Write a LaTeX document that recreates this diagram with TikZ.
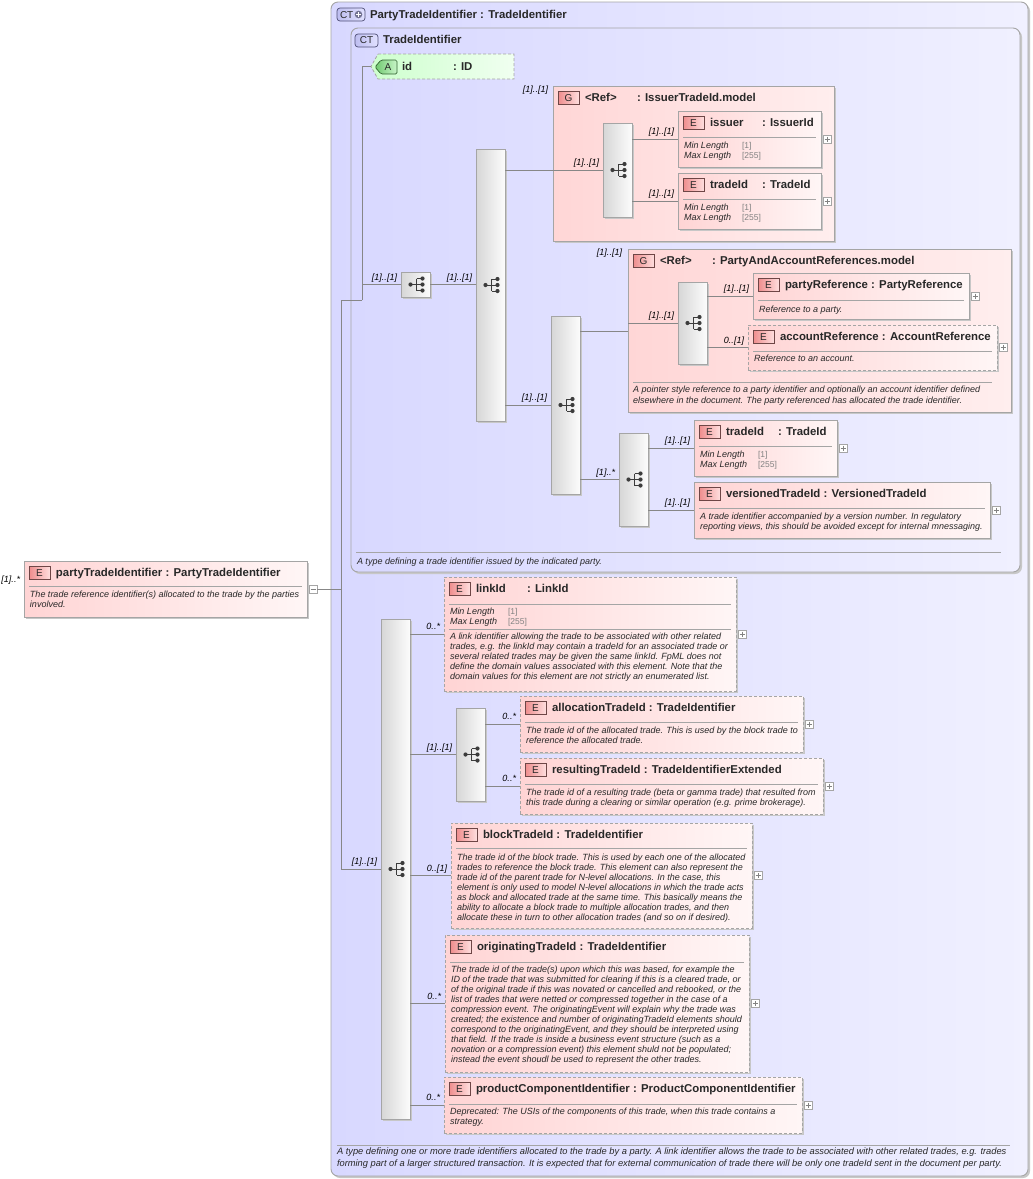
\documentclass[tikz,border=0pt]{standalone}
\usepackage{fontspec}
\setmainfont{Liberation Sans}
\usetikzlibrary{shadows}

\definecolor{linec}{RGB}{135,135,135}
\definecolor{boxb}{RGB}{165,165,165}
\definecolor{ctL}{RGB}{216,216,255}
\definecolor{ctR}{RGB}{240,240,255}
\definecolor{elL}{RGB}{255,212,212}
\definecolor{elR}{RGB}{255,246,246}
\definecolor{grL}{RGB}{255,214,214}
\definecolor{grR}{RGB}{255,238,238}
\definecolor{seqL}{RGB}{214,214,214}
\definecolor{seqR}{RGB}{252,252,252}
\definecolor{atL}{RGB}{205,255,205}
\definecolor{atR}{RGB}{240,255,240}
\definecolor{bdgL}{RGB}{238,140,140}
\definecolor{bdgR}{RGB}{255,222,222}
\definecolor{bdgB}{RGB}{110,70,70}
\definecolor{ctbL}{RGB}{190,190,240}
\definecolor{ctbR}{RGB}{225,225,255}
\definecolor{ctbB}{RGB}{80,80,120}
\definecolor{abL}{RGB}{110,200,110}
\definecolor{abR}{RGB}{200,245,200}
\definecolor{abB}{RGB}{50,100,50}
\definecolor{icoc}{RGB}{60,60,60}
\definecolor{txt}{RGB}{40,40,40}
\definecolor{valc}{RGB}{130,130,130}

\newcommand\ftitle{\fontsize{11.4}{13}\selectfont\bfseries}
\newcommand\fsm{\fontsize{9}{10}\selectfont\itshape}
\newcommand\fval{\fontsize{8.5}{10}\selectfont}

\tikzset{
  every node/.style={inner sep=0pt, outer sep=0pt},
  conn/.style={draw=linec, line width=0.8pt},
  shad/.style={drop shadow={shadow xshift=2pt, shadow yshift=-2pt, fill=black!22, opacity=1}},
  ctbox/.style={draw=boxb, line width=0.9pt, rounded corners=7pt, left color=ctL, right color=ctR, shad},
  elembox/.style={draw=boxb, line width=0.8pt, left color=elL, right color=elR, shad},
  optbox/.style={elembox, dash pattern=on 3pt off 2pt},
  grpbox/.style={draw=boxb, line width=0.8pt, left color=grL, right color=grR, shad},
  seqbox/.style={draw=boxb, line width=0.8pt, left color=seqL, right color=seqR, shad},
  ebadge/.style={draw=bdgB, line width=0.7pt, left color=bdgL, right color=bdgR, minimum width=21pt, minimum height=13.5pt, font=\fontsize{10}{10}\selectfont, text=txt},
  ctbadge/.style={draw=ctbB, line width=0.7pt, rounded corners=3pt, left color=ctbL, right color=ctbR, minimum height=13pt, font=\fontsize{10}{10}\selectfont, text=txt},
  titletext/.style={font=\ftitle, text=txt, text height=8.5pt, text depth=2.5pt},
  lab/.style={font=\fsm, text=black, text height=7pt, text depth=2pt},
  desc/.style={font=\fsm, align=left, text=txt},
  factext/.style={font=\fsm, text=txt, text height=7pt, text depth=2pt},
  facval/.style={font=\fval, text=valc, text height=7pt, text depth=2pt},
  sepline/.style={draw=boxb, line width=0.7pt},
  pm/.style={draw=boxb, fill=white, line width=0.6pt, minimum width=8pt, minimum height=8pt},
  seqicon/.pic={
    \draw[icoc, line width=0.9pt] (-6,0) -- (0,0) (0,-6) -- (0,6) (0,-6) -- (6,-6) (0,0) -- (6,0) (0,6) -- (6,6);
    \fill[icoc] (-6,0) circle (2.1pt) (6,-6) circle (2.1pt) (6,0) circle (2.1pt) (6,6) circle (2.1pt);
  }
}

\newcommand\bx[6]{\node[#1, anchor=north west, minimum width=#5pt, minimum height=#6pt] (#2) at (#3,#4) {};}
\newcommand\ehead[3]{%
  \node[ebadge, anchor=north west] at ([shift={(5,5)}]#1.north west) {#2};
  \node[titletext, anchor=west] at ([shift={(32,12.5)}]#1.north west) {#3};}
\newcommand\etype[3]{\node[titletext, anchor=west] at ([shift={(#2,12.5)}]#1.north west) {#3};}
\newcommand\esep[2]{\draw[sepline] ([shift={(5,#2)}]#1.north west) -- ([shift={(-5,#2)}]#1.north east);}
\newcommand\facetsb[2]{%
  \node[factext, anchor=west] at ([shift={(6,#2)}]#1.north west) {Min Length};
  \node[facval, anchor=west] at ([shift={(64,#2)}]#1.north west) {[1]};
  \node[factext, anchor=west] at ([shift={(6,#2+10)}]#1.north west) {Max Length};
  \node[facval, anchor=west] at ([shift={(64,#2+10)}]#1.north west) {[255]};}
\newcommand\dsc[3]{\node[desc, anchor=north west] at ([shift={(6,#2)}]#1.north west) {#3};}
\newcommand\plusbx[1]{%
  \node[pm, anchor=west] (#1p) at ([shift={(2,0)}]#1.east) {};
  \draw[valc, line width=0.6pt] ([shift={(-2.5,0)}]#1p.center) -- ([shift={(2.5,0)}]#1p.center) ([shift={(0,-2.5)}]#1p.center) -- ([shift={(0,2.5)}]#1p.center);}
\newcommand\occl[2]{\node[lab, anchor=south east] at ([shift={(-4,-2.5)}]#1) {#2};}
\newcommand\seqb[5]{\bx{seqbox}{#1}{#2}{#3}{#4}{#5}\pic at ([shift={(1,0)}]#1.center) {seqicon};}

\begin{document}
\begin{tikzpicture}[x=1pt,y=-1pt]
\useasboundingbox (0,0) rectangle (1033,1179);
\fill[white] (0,0) rectangle (1033,1179);

% ---------- outer complex type ----------
\bx{ctbox}{ptid}{331}{2}{697}{1174}
\node[ctbadge, anchor=north west, minimum width=28pt] (ptidb) at (337,8) {};
\node[anchor=west, font=\fontsize{10}{10}\selectfont, text=txt] at ([shift={(3,0.5)}]ptidb.west) {CT};
\fill[ctbB!80] ([shift={(-6.5,0)}]ptidb.east) circle (3.8pt);
\draw[white, line width=1.1pt] ([shift={(-9,0)}]ptidb.east) -- ([shift={(-4,0)}]ptidb.east) ([shift={(-6.5,-2.5)}]ptidb.east) -- ([shift={(-6.5,2.5)}]ptidb.east);
\node[titletext, anchor=west] at (370,15) {PartyTradeIdentifier : TradeIdentifier};
\draw[sepline] (337,1145) -- (1010,1145);
\node[desc, anchor=north west, font=\fontsize{9.3}{12}\selectfont\itshape] at (337,1147.5) {A type defining one or more trade identifiers allocated to the trade by a party. A link identifier allows the trade to be associated with other related trades, e.g. trades\\forming part of a larger structured transaction. It is expected that for external communication of trade there will be only one tradeId sent in the document per party.};

% ---------- inner complex type ----------
\bx{ctbox}{tid}{351}{28}{669}{544}
\node[ctbadge, anchor=north west, minimum width=23pt] (tidb) at (355,34) {CT};
\node[titletext, anchor=west] at (383,40.5) {TradeIdentifier};
\draw[sepline] (356,552) -- (1001,552);
\node[desc, anchor=north west] at (357,557.5) {A type defining a trade identifier issued by the indicated party.};

% ---------- attribute id ----------
\node[anchor=north west, minimum width=143pt, minimum height=25pt] (idattr) at (371,54) {};
\path[draw=boxb, dash pattern=on 3pt off 2pt, line width=0.8pt, left color=atL, right color=atR] (378,54) -- (514,54) -- (514,79) -- (378,79) -- (371,66.5) -- cycle;
\path[draw=abB, line width=0.7pt, left color=abL, right color=abR, rounded corners=1.5pt] (381,60) -- (397,60) -- (397,74) -- (381,74) -- (375,67) -- cycle;
\node[font=\fontsize{10}{10}\selectfont, text=txt] at (388,67) {A};
\node[titletext, anchor=west] at (402,67) {id};
\node[titletext, anchor=west] at (453,67) {: ID};

% ---------- left element ----------
\bx{elembox}{pte}{24}{561}{283}{56}
\ehead{pte}{E}{partyTradeIdentifier : PartyTradeIdentifier}
\esep{pte}{25}
\dsc{pte}{29.5}{The trade reference identifier(s) allocated to the trade by the parties\\involved.}
\node[pm, anchor=west] (ptemin) at ([shift={(2,0)}]pte.east) {};
\draw[valc, line width=0.6pt] ([shift={(-2.5,0)}]ptemin.center) -- ([shift={(2.5,0)}]ptemin.center);
\node[lab, anchor=south east] at ([shift={(-4,-5)}]pte.west) {[1]..*};

% ---------- sequences of TradeIdentifier ----------
\seqb{s1}{401}{272}{29}{25}
\seqb{s2}{476}{149}{29}{272}

% group IssuerTradeId.model
\bx{grpbox}{g1}{553}{86}{281}{155}
\ehead{g1}{G}{<Ref>}
\etype{g1}{84}{: IssuerTradeId.model}
\node[lab, anchor=east] at ([shift={(-5,4)}]g1.north west) {[1]..[1]};
\coordinate (g1port) at ([shift={(0,84)}]g1.north west);
\seqb{s3}{603}{123}{29}{94}
\bx{elembox}{issuer}{678}{111}{143}{56}
\ehead{issuer}{E}{issuer}\etype{issuer}{84}{: IssuerId}
\esep{issuer}{26}\facetsb{issuer}{34.5}\plusbx{issuer}
\bx{elembox}{tradeidA}{678}{173}{143}{56}
\ehead{tradeidA}{E}{tradeId}\etype{tradeidA}{84}{: TradeId}
\esep{tradeidA}{26}\facetsb{tradeidA}{34.5}\plusbx{tradeidA}

\seqb{s4}{551}{316}{29}{178}

% group PartyAndAccountReferences.model
\bx{grpbox}{g2}{628}{249}{383}{163}
\ehead{g2}{G}{<Ref>}
\etype{g2}{84}{: PartyAndAccountReferences.model}
\node[lab, anchor=east] at ([shift={(-6,4)}]g2.north west) {[1]..[1]};
\coordinate (g2port) at ([shift={(0,82)}]g2.north west);
\draw[sepline] ([shift={(5,133)}]g2.north west) -- ([shift={(-19,133)}]g2.north east);
\node[desc, anchor=north west, font=\fontsize{9}{11}\selectfont\itshape] at ([shift={(5,136.5)}]g2.north west) {A pointer style reference to a party identifier and optionally an account identifier defined\\elsewhere in the document. The party referenced has allocated the trade identifier.};
\seqb{s5}{678}{282}{29}{82}
\bx{elembox}{partyref}{753}{273}{216}{46}
\ehead{partyref}{E}{partyReference : PartyReference}
\esep{partyref}{27}\dsc{partyref}{32.5}{Reference to a party.}\plusbx{partyref}
\bx{optbox}{acctref}{748}{325}{249}{45}
\ehead{acctref}{E}{accountReference : AccountReference}
\esep{acctref}{26}\dsc{acctref}{29.5}{Reference to an account.}\plusbx{acctref}

\seqb{s6}{619}{433}{29}{93}
\bx{elembox}{tradeidB}{694}{420}{143}{56}
\ehead{tradeidB}{E}{tradeId}\etype{tradeidB}{84}{: TradeId}
\esep{tradeidB}{26}\facetsb{tradeidB}{34.5}\plusbx{tradeidB}
\bx{elembox}{versioned}{694}{482}{296}{56}
\ehead{versioned}{E}{versionedTradeId : VersionedTradeId}
\esep{versioned}{26}
\dsc{versioned}{31}{A trade identifier accompanied by a version number. In regulatory\\reporting views, this should be avoided except for internal mnessaging.}
\plusbx{versioned}

% ---------- extension sequence ----------
\seqb{s7}{381}{619}{29}{500}
\bx{optbox}{linkid}{444}{577}{292}{114}
\ehead{linkid}{E}{linkId}\etype{linkid}{83}{: LinkId}
\esep{linkid}{27}\facetsb{linkid}{34.5}\esep{linkid}{52}
\dsc{linkid}{56}{A link identifier allowing the trade to be associated with other related\\trades, e.g. the linkId may contain a tradeId for an associated trade or\\several related trades may be given the same linkId. FpML does not\\define the domain values associated with this element. Note that the\\domain values for this element are not strictly an enumerated list.}
\plusbx{linkid}

\seqb{s8}{456}{708}{29}{93}
\bx{optbox}{alloc}{520}{696}{283}{56}
\ehead{alloc}{E}{allocationTradeId : TradeIdentifier}
\esep{alloc}{26}
\dsc{alloc}{31}{The trade id of the allocated trade. This is used by the block trade to\\reference the allocated trade.}
\plusbx{alloc}
\bx{optbox}{result}{520}{758}{303}{56}
\ehead{result}{E}{resultingTradeId : TradeIdentifierExtended}
\esep{result}{26}
\dsc{result}{30.5}{The trade id of a resulting trade (beta or gamma trade) that resulted from\\this trade during a clearing or similar operation (e.g. prime brokerage).}
\plusbx{result}

\bx{optbox}{block}{451}{823}{301}{105}
\ehead{block}{E}{blockTradeId : TradeIdentifier}
\esep{block}{25}
\dsc{block}{30.5}{The trade id of the block trade. This is used by each one of the allocated\\trades to reference the block trade. This element can also represent the\\trade id of the parent trade for N-level allocations. In the case, this\\element is only used to model N-level allocations in which the trade acts\\as block and allocated trade at the same time. This basically means the\\ability to allocate a block trade to multiple allocation trades, and then\\allocate these in turn to other allocation trades (and so on if desired).}
\plusbx{block}

\bx{optbox}{orig}{445}{935}{304}{137}
\ehead{orig}{E}{originatingTradeId : TradeIdentifier}
\esep{orig}{27}
\dsc{orig}{30.5}{The trade id of the trade(s) upon which this was based, for example the\\ID of the trade that was submitted for clearing if this is a cleared trade, or\\of the original trade if this was novated or cancelled and rebooked, or the\\list of trades that were netted or compressed together in the case of a\\compression event. The originatingEvent will explain why the trade was\\created; the existence and number of originatingTradeId elements should\\correspond to the originatingEvent, and they should be interpreted using\\that field. If the trade is inside a business event structure (such as a\\novation or a compression event) this element shuld not be populated;\\instead the event shoudl be used to represent the other trades.}
\plusbx{orig}

\bx{optbox}{prodcomp}{444}{1077}{358}{56}
\ehead{prodcomp}{E}{productComponentIdentifier : ProductComponentIdentifier}
\esep{prodcomp}{27}
\dsc{prodcomp}{30.5}{Deprecated: The USIs of the components of this trade, when this trade contains a\\strategy.}
\plusbx{prodcomp}

% ---------- connectors ----------
\coordinate (jA) at (341,300);
\coordinate (jB) at (362,300);
\draw[conn] (ptemin.east) -- (ptemin.east -| jA);
\draw[conn] (jA) -- (s7.west -| jA) -- (s7.west);
\draw[conn] (jA) -- (jB);
\draw[conn] (jB) -- (idattr.west -| jB) -- (idattr.west);
\draw[conn] (s1.west -| jB) -- (s1.west);
\draw[conn] (s1.east) -- (s1.east -| s2.west);
\draw[conn] (s2.east |- g1port) -- (g1port);
\draw[conn] (g1.west |- s3.west) -- (s3.west);
\draw[conn] (s3.east |- issuer.west) -- (issuer.west);
\draw[conn] (s3.east |- tradeidA.west) -- (tradeidA.west);
\draw[conn] (s2.east |- s4.west) -- (s4.west);
\draw[conn] (s4.east |- g2port) -- (g2port);
\draw[conn] (g2.west |- s5.west) -- (s5.west);
\draw[conn] (s5.east |- partyref.west) -- (partyref.west);
\draw[conn] (s5.east |- acctref.west) -- (acctref.west);
\draw[conn] (s4.east |- s6.west) -- (s6.west);
\draw[conn] (s6.east |- tradeidB.west) -- (tradeidB.west);
\draw[conn] (s6.east |- versioned.west) -- (versioned.west);
\draw[conn] (s7.east |- linkid.west) -- (linkid.west);
\draw[conn] (s7.east |- s8.west) -- (s8.west);
\draw[conn] (s8.east |- alloc.west) -- (alloc.west);
\draw[conn] (s8.east |- result.west) -- (result.west);
\draw[conn] (s7.east |- block.west) -- (block.west);
\draw[conn] (s7.east |- orig.west) -- (orig.west);
\draw[conn] (s7.east |- prodcomp.west) -- (prodcomp.west);

% ---------- occurrence labels ----------
\occl{s1.west}{[1]..[1]}
\occl{s2.west}{[1]..[1]}
\occl{s3.west}{[1]..[1]}
\occl{issuer.west}{[1]..[1]}
\occl{tradeidA.west}{[1]..[1]}
\occl{s4.west}{[1]..[1]}
\occl{s5.west}{[1]..[1]}
\occl{partyref.west}{[1]..[1]}
\occl{acctref.west}{0..[1]}
\occl{s6.west}{[1]..*}
\occl{tradeidB.west}{[1]..[1]}
\occl{versioned.west}{[1]..[1]}
\occl{s7.west}{[1]..[1]}
\occl{linkid.west}{0..*}
\occl{s8.west}{[1]..[1]}
\occl{alloc.west}{0..*}
\occl{result.west}{0..*}
\occl{block.west}{0..[1]}
\occl{orig.west}{0..*}
\occl{prodcomp.west}{0..*}
\end{tikzpicture}
\end{document}
